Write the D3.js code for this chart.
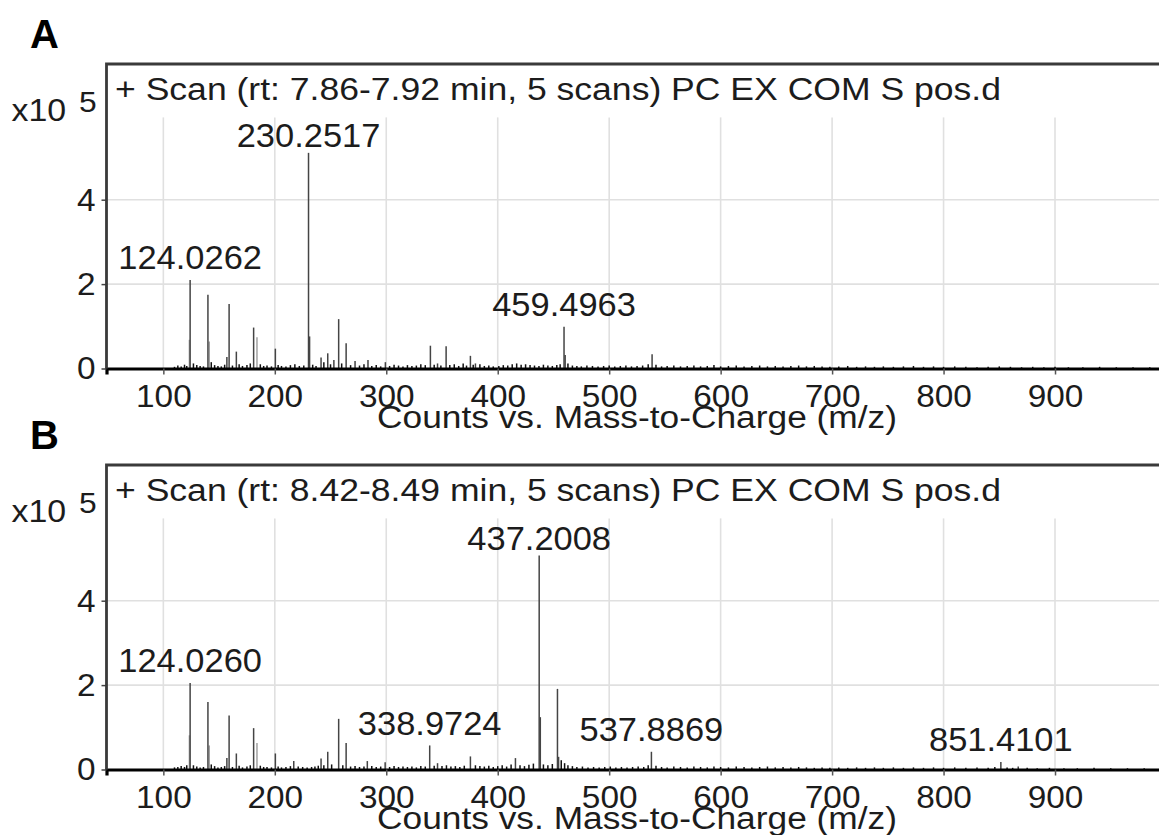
<!DOCTYPE html>
<html><head><meta charset="utf-8">
<script src="https://cdn.jsdelivr.net/npm/d3@7"></script>
<style>
body{margin:0;background:#fff}
svg{display:block}
text{font-family:"Liberation Sans",Arial,sans-serif;fill:#1c1c1c}
</style>
</head><body>
<svg id="c" width="1159" height="835"></svg>
<script>
// ---------- data ----------
const panelLetters = ["A", "B"];
const scanTitles = [
  "+ Scan (rt: 7.86-7.92 min, 5 scans) PC EX COM S pos.d",
  "+ Scan (rt: 8.42-8.49 min, 5 scans) PC EX COM S pos.d"
];
const xAxisTitle = "Counts vs. Mass-to-Charge (m/z)";
const xTicks = [100, 200, 300, 400, 500, 600, 700, 800, 900];
const yTicks = [0, 2, 4];
const yExponent = "5";

// main peaks [m/z, counts x10^5]
const peaksA = [[124.0262,2.10],[140.0,1.75],[157.0,0.27],[159.0,1.53],[165.5,0.40],[181.0,0.97],[200.5,0.47],
  [230.2517,5.11],[231.2,0.76],[241.5,0.26],[247.5,0.36],[253.0,0.20],[257.3,1.17],[264.0,0.60],[272.0,0.18],
  [283.6,0.20],[299.2,0.15],[339.6,0.54],[346.0,0.12],[353.7,0.53],[375.5,0.30],[380.0,0.12],
  [459.4963,0.99],[460.5,0.32],[538.5,0.34]];
// companion (lighter) peaks
const isoA = [[123.4,0.68],[141.2,0.64],[184.0,0.74]];
// baseline noise
const noiseA = [[110,.04],[113,.07],[116,.05],[119,.09],[121,.06],[127,.12],[130,.08],[133,.06],[136,.05],[143,.15],
  [146,.08],[149,.06],[152,.05],[155,.09],[162,.07],[168,.1],[171,.06],[175,.08],[178,.12],[187,.1],[190,.06],[193,.07],
  [197,.05],[203,.08],[206,.06],[210,.05],[214,.08],[218,.1],[222,.06],[226,.07],[234,.09],[237,.06],[244,.15],[250,.1],
  [260,.12],[268,.08],[276,.07],[280,.1],[287,.06],[291,.08],[295,.05],[303,.06],[307,.09],[311,.07],[315,.05],[319,.08],
  [323,.06],[327,.07],[331,.1],[335,.08],[343,.09],[349,.07],[357,.08],[361,.1],[365,.06],[369,.12],[372,.07],[378,.09],
  [384,.1],[388,.06],[392,.07],[396,.05],[401,.06],[405,.08],[409,.07],[413,.1],[417,.12],[421,.09],[425,.1],[429,.08],
  [433,.07],[437,.06],[441,.09],[445,.07],[449,.06],[453,.08],[456,.1],[463,.12],[467,.07],[471,.06],[475,.05],[480,.07],
  [485,.06],[490,.05],[495,.06],[500,.07],[505,.05],[510,.06],[515,.07],[520,.05],[525,.06],[530,.07],[535,.1],[542,.09],
  [547,.05],[552,.06],[558,.07],[564,.05],[570,.06],[576,.07],[582,.05],[588,.06],[594,.08],[600,.05],[607,.06],[614,.07],
  [621,.05],[628,.06],[635,.07],[642,.05],[649,.06],[656,.05],[663,.06],[670,.07],[677,.05],[684,.06],[691,.05],[698,.04],
  [706,.05],[714,.06],[722,.04],[730,.05],[738,.04],[746,.05],[755,.04],[764,.05],[773,.06],[782,.04],[791,.05],[800,.04],
  [810,.05],[820,.04],[830,.03],[840,.04],[850,.05],[860,.04],[870,.03],[880,.04],[890,.03],[900,.04],[912,.03],[925,.03],
  [940,.04],[955,.03],[970,.03],[985,.03]];
const labelsA = [124.0262, 230.2517, 459.4963];

const peaksB = [[124.0260,2.05],[140.0,1.60],[157.0,0.27],[159.0,1.28],[165.5,0.38],[181.0,0.98],[200.5,0.38],[217.0,0.20],
  [241.5,0.26],[247.5,0.42],[257.3,1.20],[264.0,0.63],[283.0,0.20],[299.0,0.17],[338.9724,0.57],[346.0,0.15],[375.5,0.31],
  [415.9,0.27],[437.2008,5.07],[438.2,1.24],[453.6,1.91],[454.6,0.30],[537.8869,0.42],[851.4101,0.18],[867.0,0.07]];
const isoB = [[123.4,0.81],[141.2,0.57],[184.0,0.63]];
const noiseB = [[110,.05],[113,.06],[116,.08],[119,.06],[121,.1],[127,.1],[130,.07],[133,.05],[136,.06],[143,.12],[146,.08],
  [149,.05],[152,.06],[155,.08],[162,.06],[168,.09],[171,.05],[175,.07],[178,.1],[187,.09],[190,.06],[193,.06],[197,.05],
  [203,.07],[206,.05],[210,.06],[214,.08],[221,.07],[225,.06],[229,.05],[233,.06],[236,.07],[239,.09],[244,.1],[251,.12],
  [261,.1],[268,.07],[272,.08],[276,.06],[280,.07],[287,.08],[291,.06],[295,.07],[303,.06],[307,.08],[311,.06],[315,.07],
  [319,.06],[323,.07],[327,.05],[331,.08],[335,.07],[343,.09],[350,.08],[354,.1],[358,.07],[362,.08],[366,.06],[370,.09],
  [380,.1],[384,.08],[388,.07],[392,.09],[396,.06],[400,.08],[404,.1],[408,.07],[412,.12],[420,.1],[424,.08],[428,.11],
  [432,.14],[441,.12],[445,.1],[449,.13],[457,.22],[460,.15],[463,.1],[467,.08],[471,.06],[476,.07],[481,.05],[486,.06],
  [491,.05],[496,.06],[501,.07],[506,.05],[511,.06],[516,.05],[521,.06],[526,.07],[531,.06],[535,.1],[542,.09],[547,.06],
  [552,.05],[558,.07],[564,.06],[570,.05],[576,.07],[582,.06],[588,.05],[594,.07],[600,.06],[607,.05],[614,.07],[621,.06],
  [628,.05],[635,.06],[642,.07],[649,.05],[656,.06],[663,.05],[670,.06],[677,.05],[684,.04],[691,.05],[698,.04],[706,.05],
  [714,.04],[722,.05],[730,.04],[738,.05],[746,.04],[755,.05],[764,.04],[773,.05],[782,.04],[791,.05],[800,.04],[810,.05],
  [820,.04],[830,.05],[840,.04],[846,.06],[857,.05],[862,.04],[875,.04],[884,.03],[895,.04],[908,.03],[920,.03],[935,.04],
  [950,.03],[965,.03],[980,.03]];
const labelsB = [124.0260, 338.9724, 437.2008, 537.8869, 851.4101];

// ---------- drawing ----------
const W = 1159;
const svg = d3.select("#c");
const x = d3.scaleLinear().domain([49, 995]).range([106.5, 1160.9]);
const STRETCH = 1.06;

function stretch(sel, target){
  sel.each(function(){
    const L = target || this.getComputedTextLength()*STRETCH;
    d3.select(this).attr("textLength", L).attr("lengthAdjust","spacingAndGlyphs");
  });
}

function drawPanel(i, peaks, iso, noise, labels){
  const top = [64, 465][i];
  const base = top + 304.5;
  const y = d3.scaleLinear().domain([0, 5.95]).range([base, base - 251.1]);
  const g = svg.append("g");
  const left = x.range()[0];

  // panel letter
  g.append("text").attr("x", 30).attr("y", top - 16)
    .style("font-weight","bold").style("font-size","40px").style("fill","#000")
    .text(panelLetters[i]);

  // grid
  g.append("g").selectAll("line").data(xTicks).join("line")
    .attr("x1", d=>x(d)).attr("x2", d=>x(d))
    .attr("y1", y.range()[1]).attr("y2", base)
    .attr("stroke","#e0e0e0").attr("stroke-width",1.6);
  g.append("g").selectAll("line").data(yTicks.filter(d=>d>0)).join("line")
    .attr("x1", left).attr("x2", W)
    .attr("y1", d=>y(d)).attr("y2", d=>y(d))
    .attr("stroke","#e0e0e0").attr("stroke-width",1.6);

  // noise
  g.append("g").selectAll("line").data(noise).join("line")
    .attr("x1", d=>x(d[0])).attr("x2", d=>x(d[0]))
    .attr("y1", base).attr("y2", d=>y(d[1]))
    .attr("stroke","#111").attr("stroke-width",1.5);
  // companion peaks
  g.append("g").selectAll("line").data(iso).join("line")
    .attr("x1", d=>x(d[0])).attr("x2", d=>x(d[0]))
    .attr("y1", base).attr("y2", d=>y(d[1]))
    .attr("stroke","#a0a0a0").attr("stroke-width",1.5);
  // main peaks
  g.append("g").selectAll("line").data(peaks).join("line")
    .attr("x1", d=>x(d[0])).attr("x2", d=>x(d[0]))
    .attr("y1", base).attr("y2", d=>y(d[1]))
    .attr("stroke","#444").attr("stroke-width",1.5);

  // x axis
  const ax = g.append("g").attr("transform",`translate(0,${base})`)
    .call(d3.axisBottom(x).tickValues(xTicks).tickSize(6).tickFormat(d3.format("d")));
  ax.select(".domain").attr("stroke","#000").attr("stroke-width",3.2);
  ax.selectAll(".tick line").attr("stroke","#555").attr("stroke-width",1.5);
  ax.selectAll(".tick text").attr("y",38.5).attr("dy",0)
    .style("font-size","31.5px").style("fill","#1c1c1c");
  stretch(ax.selectAll(".tick text"));

  // y axis
  const ay = g.append("g").attr("transform",`translate(${left},0)`)
    .call(d3.axisLeft(y).tickValues(yTicks).tickSize(5).tickPadding(6).tickFormat(d3.format("d")));
  ay.select(".domain").remove();
  ay.selectAll(".tick line").attr("stroke","#444").attr("stroke-width",1.5);
  ay.selectAll(".tick text").attr("dy","0.33em").style("font-size","31.5px").style("fill","#1c1c1c");
  stretch(ay.selectAll(".tick text"));

  // frame (left + top)
  g.append("path").attr("d",`M${left},${base}V${top}H${W+2}`)
    .attr("fill","none").attr("stroke","#3a3a3a").attr("stroke-width",2.8);

  // exponent
  const ex = g.append("text").attr("x", 11.5).attr("y", top + 57).style("font-size","32px").text("x10");
  stretch(ex);
  const ex2 = g.append("text").attr("x", 79).attr("y", top + 48).style("font-size","30px").text(yExponent);
  stretch(ex2);

  // title
  const t = g.append("text").attr("x", 115).attr("y", top + 36).style("font-size","31px").text(scanTitles[i]);
  stretch(t, 886);

  // axis title
  const at = g.append("text").attr("x", 637).attr("y", base + 59.5).attr("text-anchor","middle")
    .style("font-size","31px").text(xAxisTitle);
  stretch(at, 520);

  // peak labels
  const lab = g.append("g").selectAll("text").data(labels).join("text")
    .attr("x", d=>x(d))
    .attr("y", d=>{ const p = peaks.find(q=>q[0]===d); return y(p[1]) - (p[1] > 4 ? 6 : 10.5); })
    .attr("text-anchor","middle").style("font-size","32.5px")
    .text(d=>d.toFixed(4));
  stretch(lab);
}

drawPanel(0, peaksA, isoA, noiseA, labelsA);
drawPanel(1, peaksB, isoB, noiseB, labelsB);
</script>
</body></html>
